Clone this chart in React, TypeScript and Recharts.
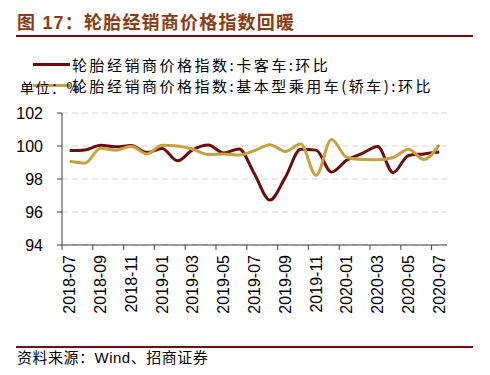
import React from 'react'
import { LineChart, XAxis, YAxis, CartesianGrid, Line, Legend } from 'recharts'

const months = [
  '2018-07', '2018-08', '2018-09', '2018-10', '2018-11', '2018-12',
  '2019-01', '2019-02', '2019-03', '2019-04', '2019-05', '2019-06',
  '2019-07', '2019-08', '2019-09', '2019-10', '2019-11', '2019-12',
  '2020-01', '2020-02', '2020-03', '2020-04', '2020-05', '2020-06', '2020-07',
]

// 卡客车
const truck = [
  99.72, 99.76, 100.05, 99.95, 100.03, 99.6, 99.85, 99.1, 99.78, 100.06, 99.58, 99.82,
  98.3, 96.72, 98.1, 99.8, 99.75, 98.42, 99.15, 99.55, 99.97, 98.38, 99.43, 99.52, 99.63,
]

// 基本型乘用车(轿车)
const car = [
  99.08, 98.97, 99.86, 99.75, 99.98, 99.52, 100.05, 100.0, 99.8, 99.48, 99.52, 99.45,
  99.72, 100.08, 99.67, 100.12, 98.22, 100.4, 99.3, 99.18, 99.17, 99.3, 99.8, 99.18, 100.08,
]

const yTicks = [94, 96, 98, 100, 102]

const data = months.map((m, i) => ({ idx: i, month: m, truck: truck[i], car: car[i] }))

// ticks sit on the month boundaries, labels on every other month
const xTicks = months.map((_, i) => i - 0.5).filter((_, i) => i % 2 === 0)

const FONT = "'Liberation Sans', 'Noto Sans CJK SC', sans-serif"
const CJK = "'Noto Sans CJK SC', 'Liberation Sans', sans-serif"
const MAROON = '#6d0b0b'
const GOLD = '#c9a13c'
const DARKRED = '#7f0a0a'

const PLOT_LEFT = 62
const PLOT_RIGHT = 447
const HALF = (PLOT_RIGHT - PLOT_LEFT) / months.length / 2

const MonthTick = ({ x, y, payload }: any) => {
  const label = months[Math.round(payload.value + 0.5)]
  const cx = x + HALF
  return (
    <text
      x={cx}
      y={y}
      transform={`rotate(-90, ${cx}, ${y})`}
      textAnchor="end"
      dominantBaseline="central"
      fontSize={16}
      fontFamily={FONT}
      fill="#000"
    >
      {label}
    </text>
  )
}

const LegendRows = ({ payload }: any) => (
  <div style={{ fontFamily: CJK, fontSize: 15, color: '#000', letterSpacing: 2.5 }}>
    {(payload || []).map((p: any) => (
      <div key={p.value} style={{ position: 'relative', height: 21, lineHeight: '21px' }}>
        <span
          style={{
            position: 'absolute', left: 33, top: 9, width: 37, height: 3, background: p.color,
          }}
        />
        <span style={{ position: 'absolute', left: 72, top: 0, whiteSpace: 'nowrap' }}>{p.value}</span>
      </div>
    ))}
  </div>
)

export default function App() {
  return (
    <div style={{ position: 'absolute', left: 0, top: 0, width: 490, height: 375, background: '#fff' }}>
      <div
        style={{
          position: 'absolute', left: 17, top: 14, fontSize: 18, lineHeight: '18px', fontWeight: 'bold',
          fontFamily: FONT, color: '#8e3a14', letterSpacing: 1.2, whiteSpace: 'nowrap',
        }}
      >
        图 17：轮胎经销商价格指数回暖
      </div>
      <div style={{ position: 'absolute', left: 16, top: 35, width: 457, height: 2, background: DARKRED }} />

      <div style={{ position: 'absolute', left: 0, top: 0 }}>
        <LineChart
          width={490}
          height={375}
          data={data}
          margin={{ top: 113, right: 490 - PLOT_RIGHT, bottom: 70, left: 0 }}
        >
          <CartesianGrid vertical={false} stroke="#d4d4d4" strokeDasharray="6 4" strokeWidth={1.2} />
          <XAxis
            type="number"
            dataKey="idx"
            domain={[-0.5, months.length - 0.5]}
            ticks={xTicks}
            interval={0}
            height={60}
            tickSize={5}
            tickMargin={5}
            axisLine={{ stroke: '#404040' }}
            tickLine={{ stroke: '#404040' }}
            tick={<MonthTick />}
          />
          <YAxis
            domain={[94, 102]}
            ticks={yTicks}
            width={PLOT_LEFT}
            tickSize={5}
            tickMargin={14}
            axisLine={{ stroke: '#404040' }}
            tickLine={{ stroke: '#404040' }}
            tick={{ fontSize: 16, fill: '#000', fontFamily: FONT }}
          />
          <Legend
            layout="horizontal"
            verticalAlign="middle"
            align="center"
            wrapperStyle={{ top: 54, left: 0, width: 490 }}
            content={<LegendRows />}
          />
          <Line
            name="轮胎经销商价格指数:卡客车:环比"
            type="monotone"
            dataKey="truck"
            stroke={MAROON}
            strokeWidth={3}
            dot={false}
            isAnimationActive={false}
          />
          <Line
            name="轮胎经销商价格指数:基本型乘用车(轿车):环比"
            type="monotone"
            dataKey="car"
            stroke={GOLD}
            strokeWidth={3}
            dot={false}
            isAnimationActive={false}
          />
        </LineChart>
      </div>

      <div
        style={{
          position: 'absolute', left: 20, top: 79, fontSize: 14, lineHeight: '16px', fontFamily: CJK,
          color: '#000', letterSpacing: 1.5, whiteSpace: 'nowrap',
        }}
      >
        单位：%
      </div>

      <div style={{ position: 'absolute', left: 16, top: 346, width: 457, height: 2, background: DARKRED }} />
      <div
        style={{
          position: 'absolute', left: 17, top: 350, fontSize: 15, lineHeight: '16px', fontFamily: FONT,
          color: '#000', letterSpacing: 0.5, whiteSpace: 'nowrap',
        }}
      >
        资料来源：Wind、招商证券
      </div>
    </div>
  )
}
